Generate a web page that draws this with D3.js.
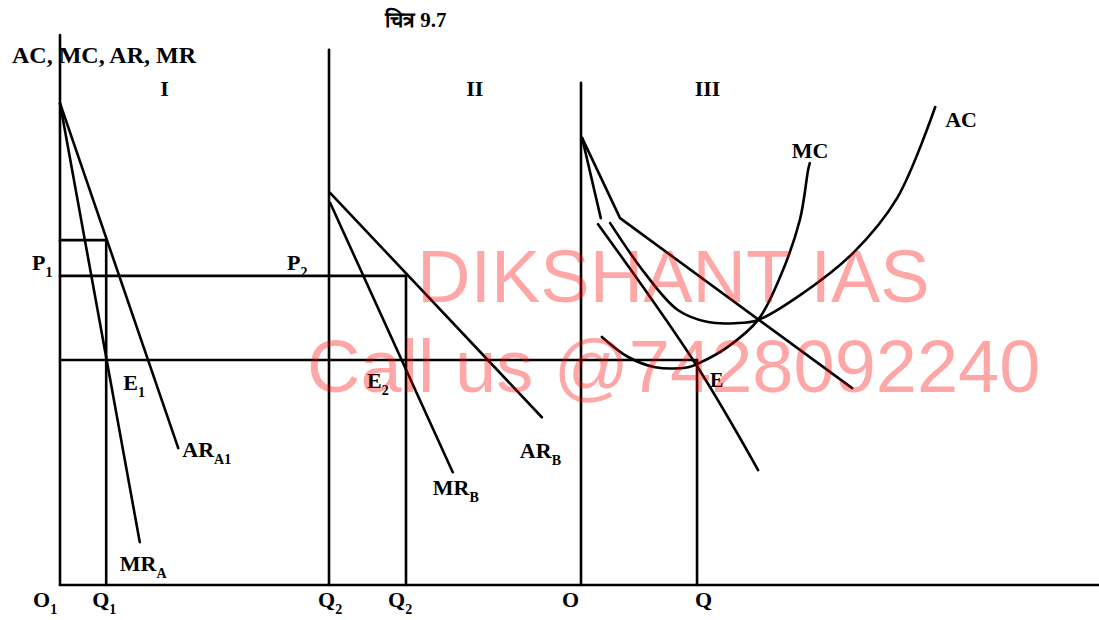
<!DOCTYPE html>
<html>
<head>
<meta charset="utf-8">
<script src="https://cdn.jsdelivr.net/npm/d3@7"></script>
<style>
  html, body { margin: 0; padding: 0; background: #fff; }
  svg { display: block; }
  .lbl { font-family: "Liberation Serif", "Times New Roman", serif; font-weight: bold; fill: #000; }
</style>
</head>
<body>
<div id="chart"></div>
<script>
// ---------- DATA (price / quantity units) ----------
const panelNames = ["I", "II", "III"];
const axisTops = [100, 97.3, 91.3];          // top of each vertical axis (price units)

// Panel I
const arA1 = [[0, 87.6], [21.5, 24.9]];
const mrA  = [[0, 87.6], [14.5, 7.8]];
const q1 = 8.4;          // Q1
const boxTop = 62.7;     // short horizontal at top of Q1 line
const p1 = 56.2;         // P1 = P2 price level
const pE = 40.9;         // equilibrium price level (E1, E2, E)

// Panel II
const arB = [[0.2, 71.3], [38.7, 30.5]];
const mrB = [[0.2, 69.5], [22.5, 20.5]];
const q2b = 14.0;        // second Q2

// Panel III
const arAgg  = [[0.2, 81.3], [7.1, 66.7], [49.3, 35.8]];
const mrAgg1 = [[0.2, 81.3], [3.6, 66.7]];
const mrAgg2 = [[3.1, 65.6], [20.7, 40.4], [32.2, 20.9]];
const acCurve = [[5.3, 65.8], [11.6, 56.7], [17.6, 50.0], [23.1, 47.8], [28.0, 47.6],
                 [32.2, 48.2], [40.4, 53.1], [49.5, 60.4], [57.5, 70.4], [64.4, 86.9]];
const mcCurve = [[3.8, 45.1], [8.5, 41.5], [13.5, 39.6], [19.5, 39.6], [21.6, 40.4],
                 [26.7, 43.3], [32.2, 48.2], [36.2, 56.0], [39.8, 66.4], [41.3, 75.5], [41.6, 76.7]];
const qE = 21.1;         // Q in panel III
const baseEnd = 94.5;    // end of common horizontal axis (panel III units)

const titleText = "चित्र 9.7";
const yAxisTitle = "AC, MC, AR, MR";
const watermark = ["DIKSHANT IAS", "Call us @7428092240"];

// ---------- SCALES ----------
const W = 1099, H = 620;
const yS  = d3.scaleLinear().domain([0, 100]).range([585, 35]);
const xI  = d3.scaleLinear().domain([0, 100]).range([60, 610]);
const xII = d3.scaleLinear().domain([0, 100]).range([329, 879]);
const xIII= d3.scaleLinear().domain([0, 100]).range([581, 1131]);
const xScales = [xI, xII, xIII];

const svg = d3.select("#chart").append("svg").attr("width", W).attr("height", H);
const g = svg.append("g");

const lineOf = (xs, curve) => d3.line().x(d => xs(d[0])).y(d => yS(d[1])).curve(curve || d3.curveLinear);
const stroke = sel => sel.attr("fill", "none").attr("stroke", "#000").attr("stroke-width", 2.6)
                         .attr("stroke-linecap", "round").attr("stroke-linejoin", "round");

// horizontal base axis
g.append("line").attr("x1", xI(0)).attr("x2", xIII(baseEnd)).attr("y1", yS(0)).attr("y2", yS(0)).call(stroke);
// vertical axes
xScales.forEach((xs, i) => {
  g.append("line").attr("x1", xs(0)).attr("x2", xs(0)).attr("y1", yS(0)).attr("y2", yS(axisTops[i])).call(stroke);
});

// Panel I
g.append("path").attr("d", lineOf(xI)(arA1)).call(stroke);
g.append("path").attr("d", lineOf(xI)(mrA)).call(stroke);
g.append("line").attr("x1", xI(q1)).attr("x2", xI(q1)).attr("y1", yS(0)).attr("y2", yS(boxTop)).call(stroke);
g.append("line").attr("x1", xI(0)).attr("x2", xI(q1)).attr("y1", yS(boxTop)).attr("y2", yS(boxTop)).call(stroke);
// P line (panel I to AR_B in panel II)
g.append("line").attr("x1", xI(0)).attr("x2", xII(q2b)).attr("y1", yS(p1)).attr("y2", yS(p1)).call(stroke);
// E line (panel I to E in panel III)
g.append("line").attr("x1", xI(0)).attr("x2", xIII(qE)).attr("y1", yS(pE)).attr("y2", yS(pE)).call(stroke);

// Panel II
g.append("path").attr("d", lineOf(xII)(arB)).call(stroke);
g.append("path").attr("d", lineOf(xII)(mrB)).call(stroke);
g.append("line").attr("x1", xII(q2b)).attr("x2", xII(q2b)).attr("y1", yS(0)).attr("y2", yS(p1)).call(stroke);

// Panel III
g.append("path").attr("d", lineOf(xIII)(arAgg)).call(stroke);
g.append("path").attr("d", lineOf(xIII)(mrAgg1)).call(stroke);
g.append("path").attr("d", lineOf(xIII, d3.curveCatmullRom)(mrAgg2)).call(stroke);
g.append("path").attr("d", lineOf(xIII, d3.curveCatmullRom.alpha(0.5))(acCurve)).call(stroke);
g.append("path").attr("d", lineOf(xIII, d3.curveCatmullRom.alpha(0.5))(mcCurve)).call(stroke);
g.append("line").attr("x1", xIII(qE)).attr("x2", xIII(qE)).attr("y1", yS(0)).attr("y2", yS(pE)).call(stroke);

// ---------- LABELS ----------
function label(x, y, main, sub, size, anchor) {
  size = size || 22;
  const t = g.append("text").attr("class", "lbl").attr("x", x).attr("y", y)
    .attr("font-size", size).attr("text-anchor", anchor || "start");
  t.append("tspan").text(main);
  if (sub) t.append("tspan").attr("font-size", Math.round(size * 0.62)).attr("dy", size * 0.3).text(sub);
  return t;
}

label(12, 63, yAxisTitle, null, 24);
g.append("text").attr("class", "lbl").attr("x", 385).attr("y", 27).attr("font-size", 21)
  .attr("font-family", "'Noto Sans Devanagari', 'Noto Sans', 'Liberation Serif', serif").text(titleText);

const numeralX = [xI(19), xII(26.5), xIII(23)];
panelNames.forEach((n, i) => label(numeralX[i], 96, n, null, 22, "middle"));

label(xI(0) - 28, yS(p1) - 6, "P", "1");
label(xII(0) - 42, yS(p1) - 6, "P", "2");
label(xI(q1) + 17, yS(pE) + 30, "E", "1");
label(xII(q2b) - 39, yS(pE) + 28, "E", "2");
label(xIII(qE) + 13, yS(pE) + 27, "E", null, 20);
label(xI(arA1[1][0]) + 4, yS(arA1[1][1]) + 9, "AR", "A1");
label(xI(mrA[1][0]) - 20, yS(mrA[1][1]) + 29, "MR", "A");
label(xII(mrB[1][0]) - 20, yS(mrB[1][1]) + 23, "MR", "B");
label(xII(arB[1][0]) - 22, yS(arB[1][1]) + 41, "AR", "B");
label(xIII(mcCurve[mcCurve.length - 1][0]) - 18, yS(mcCurve[mcCurve.length - 1][1]) - 5, "MC");
label(xIII(acCurve[acCurve.length - 1][0]) + 10, yS(acCurve[acCurve.length - 1][1]) + 20, "AC");

label(xI(0) - 27, 607, "O", "1");
label(xI(q1) - 14, 607, "Q", "1");
label(xII(0) - 11, 607, "Q", "2");
label(xII(q2b) - 18, 607, "Q", "2");
label(xIII(0) - 19, 607, "O");
label(xIII(qE) - 2, 607, "Q");

// ---------- WATERMARK ----------
const wm = svg.append("g").attr("fill", "#ff0000").attr("fill-opacity", 0.35)
  .attr("font-family", "'Liberation Sans', Arial, sans-serif").attr("font-size", 74);
wm.append("text").attr("x", 417).attr("y", 302).text(watermark[0]);
wm.append("text").attr("x", 307).attr("y", 392).text(watermark[1]);
</script>
</body>
</html>
